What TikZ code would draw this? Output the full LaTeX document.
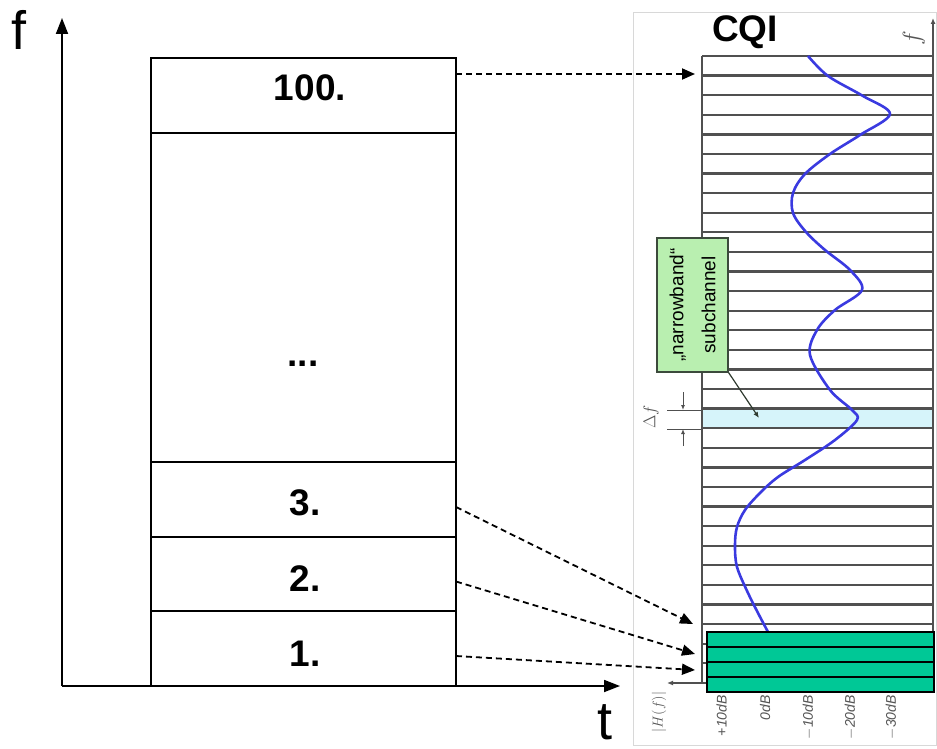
\documentclass[tikz,border=0pt]{standalone}
\usepackage{fontspec}
\setmainfont{Liberation Sans}
\usetikzlibrary{arrows.meta,calc}
\definecolor{gridgray}{HTML}{505050}
\definecolor{framegray}{HTML}{D8D8D8}
\definecolor{bandblue}{HTML}{D6F4FA}
\definecolor{calloutgreen}{HTML}{B9EFB0}
\definecolor{calloutborder}{HTML}{3C4A3C}
\definecolor{cqigreen}{HTML}{00C896}
\definecolor{curveblue}{HTML}{3A3AE0}
\definecolor{labgray}{HTML}{555555}
\begin{document}
\begin{tikzpicture}[x=1pt,y=-1pt,
  cell/.style={draw=black,line width=1.5pt,minimum width=305pt,inner sep=0pt,outer sep=0pt},
  numlab/.style={font=\fontsize{37}{40}\selectfont\bfseries,inner sep=0pt},
  axislab/.style={font=\fontsize{54}{54}\selectfont,inner sep=0pt},
  axisline/.style={line width=1.8pt,-{Triangle[length=16pt,width=12pt]}},
  dasharrow/.style={line width=1.8pt,dash pattern=on 6pt off 4pt,-{Triangle[length=13pt,width=11pt]}},
  gridline/.style={draw=gridgray,line width=2.3pt},
  greenbox/.style={draw=black,line width=2pt,fill=cqigreen,minimum width=227pt,minimum height=15pt,inner sep=0pt,outer sep=0pt},
  dblab/.style={font=\fontsize{14}{14}\selectfont\itshape,text=labgray,rotate=90,anchor=east,inner sep=0pt},
  dimline/.style={draw=gridgray,line width=1pt},
  dimarrow/.style={draw=gridgray,line width=1pt,-{Latex[length=5pt,width=4pt]}},
  callout/.style={draw=calloutborder,fill=calloutgreen,line width=1.2pt,rotate=90,minimum width=134pt,minimum height=71pt,inner sep=0pt,align=center,font=\fontsize{19}{32}\selectfont}
]
\useasboundingbox (0,0) rectangle (937,749);

% ---------- left part: time/frequency axes ----------
\coordinate (O) at (62,686);
\coordinate (ftip) at (62,18);
\coordinate (ttip) at (620,686);
\draw[axisline] (O) -- (ftip);
\draw[axisline] (O) -- (ttip);
\node[axislab] (flab) at (19,30) {f};
\node[axislab] (tlab) at (605,722) {t};

% resource blocks
\node[cell,minimum height=75pt] (c100) at (303.5,95.5) {};
\node[cell,minimum height=329pt] (cdots) at (303.5,297.5) {};
\node[cell,minimum height=75pt] (c3) at (303.5,499.5) {};
\node[cell,minimum height=74pt] (c2) at (303.5,574) {};
\node[cell,minimum height=75pt] (c1) at (303.5,648.5) {};
\node[numlab] (l100) at (310,88) {100.};
\node[numlab] (ldots) at (303,364) {...};
\node[numlab] (l3) at (305,503) {3.};
\node[numlab] (l2) at (305,579) {2.};
\node[numlab] (l1) at (305,654) {1.};

% ---------- right part: CQI panel ----------
\draw[framegray,line width=1pt] (633,13) rectangle (936.5,745);
\node[font=\fontsize{37}{37}\selectfont\bfseries,inner sep=0pt] (cqi) at (745,32) {CQI};

\fill[bandblue] (702,410) rectangle (933,429);
\foreach \i in {0,...,31}
  \draw[gridline] (702,{56+\i*19.59}) -- (933,{56+\i*19.59});
\draw[gridline] (702,56) -- (702,683);
\coordinate (HO) at (933,683);
\coordinate (fatip) at (933,18);
\coordinate (Hatip) at (667,683);
\draw[gridline,-{Latex[length=6pt,width=5pt]}] (HO) -- (fatip);
\draw[gridline,-{Latex[length=6pt,width=5pt]}] (HO) -- (Hatip);
\node[text=labgray,rotate=90,font=\fontsize{24}{24}\selectfont,inner sep=0pt] (faxlab) at (914,38) {$f$};

% Delta f dimension
\draw[dimline] (667,410) -- (702,410);
\draw[dimline] (667,429) -- (702,429);
\draw[dimarrow] (683,392) -- (683,410);
\draw[dimarrow] (683,446) -- (683,429);
\node[text=labgray,rotate=90,font=\fontsize{18}{18}\selectfont,inner sep=0pt] (dflab) at (651,417) {$\Delta f$};

% callout
\node[callout] (nb) at (692.5,305) {„narrowband“\\subchannel};
\coordinate (nbtip) at (759,418);
\draw[draw=calloutborder!80!black,line width=1.2pt,-{Latex[length=6pt,width=5pt]}] (nb.south west) -- (nbtip);

% channel curve
\draw[curveblue,line width=2.6pt,line join=round] plot[smooth,tension=0.55] coordinates {
 (808,56) (828,76) (863,96) (890,114) (860,135) (830,154) (805,174) (793,193)
 (793,213) (806,232) (825,250) (850,270) (862,290) (835,310) (817,330) (810,355)
 (830,390) (852,410) (857,420) (835,440) (805,460) (778,477) (760,493) (745,510)
 (737,527) (735,545) (737,567) (748,593) (758,613) (768,632)};

% selected subbands
\node[greenbox] (g1) at (820.5,684.5) {};
\node[greenbox] (g2) at (820.5,669.5) {};
\node[greenbox] (g3) at (820.5,654.5) {};
\node[greenbox] (g4) at (820.5,639.5) {};

% axis labels below
\node[text=labgray,rotate=90,font=\fontsize{15}{15}\selectfont,inner sep=0pt] (Hlab) at (659,712) {$|H(f)|$};
\node[dblab] (db1) at (721.5,695) {+10dB};
\node[dblab] (db2) at (765,695) {0dB};
\node[dblab] (db3) at (808.5,695) {$-$10dB};
\node[dblab] (db4) at (850.5,695) {$-$20dB};
\node[dblab] (db5) at (891.5,695) {$-$30dB};

% ---------- mapping arrows ----------
\coordinate (t100) at (695,74);
\coordinate (t3) at (693,624);
\coordinate (t2) at (695,654);
\coordinate (t1) at (695,670);
\draw[dasharrow] (c100.east |- t100) -- (t100);
\draw[dasharrow] ([yshift=-7.5pt]c3.east) -- (t3);
\draw[dasharrow] ([yshift=-7.5pt]c2.east) -- (t2);
\draw[dasharrow] ([yshift=-7.5pt]c1.east) -- (t1);
\end{tikzpicture}
\end{document}
